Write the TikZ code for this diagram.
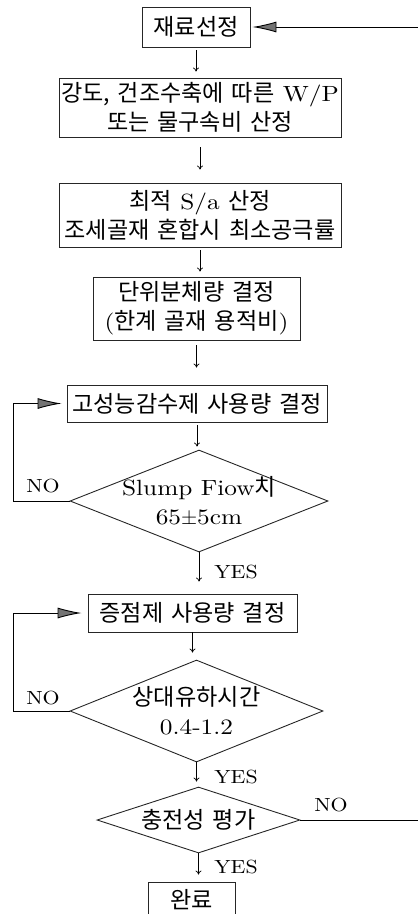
\documentclass[tikz,border=0pt]{standalone}
\usepackage{fontspec}
\setmainfont{lmroman10-regular}[Extension=.otf, FakeStretch=1.15]
\newfontfamily\krfont[Scale=1.05,WordSpace=1.5]{Noto Sans CJK KR}
\newcommand\ko[1]{{\krfont #1}}
\usetikzlibrary{shapes.geometric,arrows.meta}

\begin{document}
\begin{tikzpicture}[x=1pt,y=-1pt,
  box/.style={draw=black!85, line width=0.9pt, align=center, inner sep=0pt, font=\fontsize{22}{29}\selectfont},
  dia/.style={draw=black!85, line width=0.9pt, diamond, inner sep=0pt},
  lbl/.style={font=\fontsize{22}{29}\selectfont, align=center},
  yn/.style={font=\fontsize{19}{22}\selectfont},
  flow/.style={line width=0.7pt, -{To[length=4pt,width=6pt]}},
  back/.style={line width=0.9pt, -{Latex[length=24pt,width=11pt,fill=black!55]}}]
  \useasboundingbox (0,0) rectangle (418,914);

	\node[box, minimum width=108pt, minimum height=40pt] (b1) at (196,27) {\ko{재료선정}};
	\node[box, minimum width=282pt, minimum height=59pt] (b2) at (200,107.5) {\ko{강도, 건조수축에 따른} W/P\\\ko{또는 물구속비 산정}};
	\node[box, minimum width=282pt, minimum height=64pt] (b3) at (200,215) {\ko{최적} S/a \ko{산정}\\\ko{조세골재 혼합시 최소공극률}};
	\node[box, minimum width=207pt, minimum height=63pt] (b4) at (196.5,308.5) {\ko{단위분체량 결정}\\(\ko{한계 골재 용적비})};
	\node[box, minimum width=260pt, minimum height=37pt] (b5) at (197,403.5) {\ko{고성능감수제 사용량 결정}};

            \node[dia, minimum width=258pt, minimum height=102pt,
              label={[lbl]center:{Slump Fiow\ko{치}\\65$\pm$5cm}}] (d1) at (199,501) {};

	\node[box, minimum width=209pt, minimum height=38pt] (b6) at (192.5,613) {\ko{증점제 사용량 결정}};

            \node[dia, minimum width=253pt, minimum height=102pt,
              label={[lbl]center:{\ko{상대유하시간}\\0.4-1.2}}] (d2) at (196.5,711) {};
            \node[dia, minimum width=203pt, minimum height=66pt,
              label={[lbl]center:{\ko{충전성 평가}}}] (d3) at (198.5,820) {};

	\node[box, minimum width=87pt, minimum height=36pt] (b7) at (191.5,900) {\ko{완료}};

            \foreach \a/\b/\s/\e in {b1/b2/3pt/6pt, b2/b3/10pt/13pt, b3/b4/3pt/5pt, b4/b5/5pt/17pt, b5/d1/3pt/3pt,
              d1/b6/0pt/12pt, b6/d2/0pt/7pt, d2/d3/0pt/5pt, d3/b7/0pt/7pt}{
              \draw[flow, shorten <=\s, shorten >=\e] (\a.south) -- (\a.south |- \b.north);
            }

            \draw[back, shorten >=5pt] (d1.west) -- ++(-56,0) |- (b5.west);
            \draw[back, shorten >=6pt] (d2.west) -- ++(-56,0) |- (b6.west);
            \draw[back, shorten >=2pt] (d3.east) -- ++(119,0) |- (b1.east);

            \node[yn] (no1) at (43,486) {NO};
            \node[yn] (no2) at (43,698) {NO};
            \node[yn] (no3) at (331,805) {NO};
            \node[yn] (yes1) at (236,572) {YES};
            \node[yn] (yes2) at (236,777) {YES};
            \node[yn] (yes3) at (236,867) {YES};
\end{tikzpicture}
\end{document}
